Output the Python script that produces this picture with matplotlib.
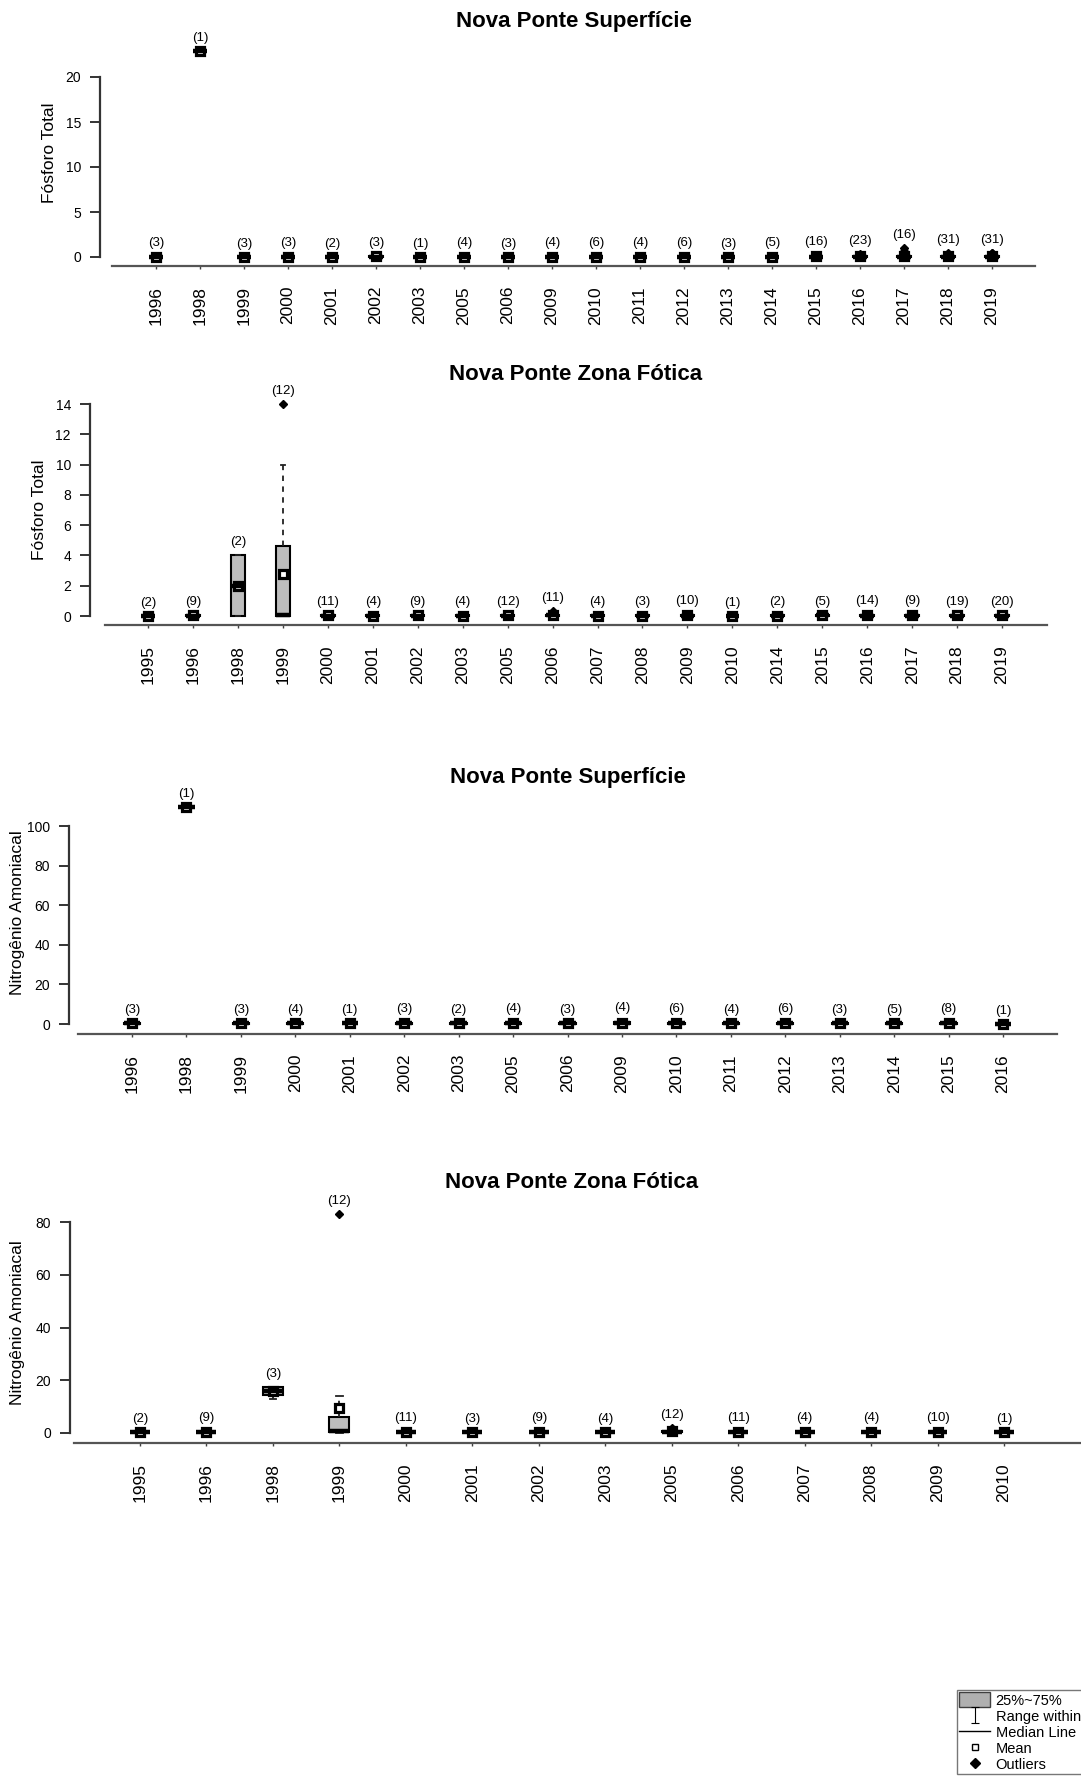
import numpy as np
import matplotlib
matplotlib.use('Agg')
import matplotlib.pyplot as plt
from matplotlib.patches import Patch
from matplotlib.lines import Line2D
from matplotlib.path import Path

plt.rcParams['font.family'] = ['Liberation Sans', 'DejaVu Sans']

W, H, DPI = 1081, 1786, 100

# --- Fosforo Total, Nova Ponte Superficie
ft_sup_years = ['1996', '1998', '1999', '2000', '2001', '2002', '2003', '2005', '2006', '2009',
                '2010', '2011', '2012', '2013', '2014', '2015', '2016', '2017', '2018', '2019']
ft_sup_n = [3, 1, 3, 3, 2, 3, 1, 4, 3, 4, 6, 4, 6, 3, 5, 16, 23, 16, 31, 31]
ft_sup_lo = [0.01, 22.9, 0.01, 0.01, 0.02, 0.01, 0.03, 0.01, 0.01, 0.01, 0.01, 0.01, 0.01, 0.01, 0.01, 0.01, 0.01, 0.01, 0.01, 0.01]
ft_sup_q1 = [0.02, 22.9, 0.02, 0.02, 0.02, 0.02, 0.03, 0.02, 0.02, 0.02, 0.02, 0.02, 0.02, 0.02, 0.02, 0.02, 0.02, 0.02, 0.02, 0.02]
ft_sup_med = [0.03, 22.9, 0.03, 0.03, 0.03, 0.04, 0.03, 0.03, 0.03, 0.03, 0.03, 0.03, 0.03, 0.03, 0.03, 0.03, 0.04, 0.04, 0.03, 0.04]
ft_sup_q3 = [0.05, 22.9, 0.04, 0.05, 0.04, 0.08, 0.03, 0.05, 0.04, 0.05, 0.05, 0.04, 0.05, 0.04, 0.05, 0.05, 0.07, 0.08, 0.06, 0.07]
ft_sup_hi = [0.06, 22.9, 0.05, 0.06, 0.04, 0.12, 0.03, 0.08, 0.05, 0.07, 0.08, 0.07, 0.08, 0.05, 0.07, 0.08, 0.12, 0.14, 0.12, 0.13]
ft_sup_mean = [0.04, 22.9, 0.03, 0.04, 0.03, 0.06, 0.03, 0.04, 0.04, 0.04, 0.05, 0.04, 0.05, 0.04, 0.04, 0.06, 0.09, 0.16, 0.08, 0.09]
ft_sup_out = {'2015': [0.18], '2016': [0.25, 0.3], '2017': [0.45, 0.7, 1.0],
              '2018': [0.35, 0.5], '2019': [0.4, 0.5]}

# --- Fosforo Total, Nova Ponte Zona Fotica
ft_fot_years = ['1995', '1996', '1998', '1999', '2000', '2001', '2002', '2003', '2005', '2006',
                '2007', '2008', '2009', '2010', '2014', '2015', '2016', '2017', '2018', '2019']
ft_fot_n = [2, 9, 2, 12, 11, 4, 9, 4, 12, 11, 4, 3, 10, 1, 2, 5, 14, 9, 19, 20]
ft_fot_lo = [0.01, 0.01, 0.0, 0.0, 0.01, 0.01, 0.01, 0.01, 0.01, 0.01, 0.01, 0.01, 0.01, 0.02, 0.01, 0.01, 0.01, 0.01, 0.01, 0.01]
ft_fot_q1 = [0.01, 0.02, 0.0, 0.0, 0.02, 0.02, 0.02, 0.02, 0.02, 0.02, 0.02, 0.02, 0.02, 0.02, 0.02, 0.02, 0.02, 0.02, 0.02, 0.02]
ft_fot_med = [0.02, 0.03, 2.0, 0.05, 0.03, 0.03, 0.03, 0.03, 0.03, 0.04, 0.03, 0.03, 0.03, 0.02, 0.03, 0.04, 0.03, 0.03, 0.03, 0.03]
ft_fot_q3 = [0.03, 0.05, 4.0, 4.6, 0.05, 0.04, 0.05, 0.04, 0.05, 0.08, 0.04, 0.04, 0.05, 0.02, 0.04, 0.06, 0.05, 0.05, 0.04, 0.05]
ft_fot_hi = [0.03, 0.08, 4.0, 10.0, 0.08, 0.05, 0.08, 0.05, 0.09, 0.15, 0.05, 0.05, 0.08, 0.02, 0.05, 0.08, 0.09, 0.08, 0.07, 0.08]
ft_fot_mean = [0.02, 0.04, 2.0, 2.8, 0.04, 0.03, 0.04, 0.03, 0.05, 0.07, 0.03, 0.03, 0.04, 0.02, 0.03, 0.05, 0.05, 0.04, 0.04, 0.04]
ft_fot_out = {'1999': [14.0], '2006': [0.3], '2009': [0.15], '2016': [0.14], '2017': [0.13]}

# --- Nitrogenio Amoniacal, Nova Ponte Superficie
na_sup_years = ['1996', '1998', '1999', '2000', '2001', '2002', '2003', '2005', '2006', '2009',
                '2010', '2011', '2012', '2013', '2014', '2015', '2016']
na_sup_n = [3, 1, 3, 4, 1, 3, 2, 4, 3, 4, 6, 4, 6, 3, 5, 8, 1]
na_sup_lo = [0.1, 109.5, 0.1, 0.1, 0.3, 0.1, 0.1, 0.1, 0.1, 0.1, 0.1, 0.1, 0.1, 0.1, 0.1, 0.1, 0.2]
na_sup_q1 = [0.2, 109.5, 0.2, 0.2, 0.3, 0.2, 0.2, 0.2, 0.2, 0.2, 0.2, 0.2, 0.2, 0.2, 0.2, 0.2, 0.2]
na_sup_med = [0.3, 109.5, 0.3, 0.3, 0.3, 0.4, 0.3, 0.3, 0.3, 0.4, 0.3, 0.3, 0.3, 0.3, 0.3, 0.3, 0.2]
na_sup_q3 = [0.5, 109.5, 0.4, 0.5, 0.3, 0.7, 0.4, 0.5, 0.4, 0.8, 0.5, 0.5, 0.5, 0.4, 0.5, 0.5, 0.2]
na_sup_hi = [0.6, 109.5, 0.5, 0.7, 0.3, 1.2, 0.5, 0.8, 0.5, 1.5, 0.8, 0.7, 0.8, 0.5, 0.7, 0.8, 0.2]
na_sup_mean = [0.4, 109.5, 0.3, 0.4, 0.3, 0.6, 0.3, 0.4, 0.3, 0.7, 0.4, 0.4, 0.4, 0.3, 0.4, 0.4, 0.2]
na_sup_out = {}

# --- Nitrogenio Amoniacal, Nova Ponte Zona Fotica
na_fot_years = ['1995', '1996', '1998', '1999', '2000', '2001', '2002', '2003', '2005', '2006',
                '2007', '2008', '2009', '2010']
na_fot_n = [2, 9, 3, 12, 11, 3, 9, 4, 12, 11, 4, 4, 10, 1]
na_fot_lo = [0.1, 0.1, 13.0, 0.0, 0.1, 0.1, 0.1, 0.1, 0.1, 0.1, 0.1, 0.1, 0.1, 0.2]
na_fot_q1 = [0.2, 0.2, 14.5, 0.3, 0.2, 0.2, 0.2, 0.2, 0.2, 0.2, 0.2, 0.2, 0.2, 0.2]
na_fot_med = [0.2, 0.3, 16.0, 0.6, 0.3, 0.3, 0.3, 0.3, 0.4, 0.3, 0.3, 0.3, 0.3, 0.2]
na_fot_q3 = [0.3, 0.5, 17.5, 6.0, 0.5, 0.4, 0.5, 0.4, 0.8, 0.5, 0.5, 0.5, 0.5, 0.2]
na_fot_hi = [0.4, 0.8, 17.5, 14.0, 0.8, 0.5, 0.8, 0.5, 1.2, 0.8, 0.6, 0.7, 0.8, 0.2]
na_fot_mean = [0.2, 0.4, 16.0, 9.5, 0.4, 0.3, 0.4, 0.3, 0.6, 0.4, 0.4, 0.4, 0.4, 0.2]
na_fot_out = {'1999': [83.0], '2005': [1.8]}


def pt(p):
    # pixels -> points
    return p * 72.0 / DPI


def draw_panel(fig, years, n, lo, q1, med, q3, hi, mean, outliers, yticks, title, ylabel, g):
    ax = fig.add_axes([g['left'] / W, 1 - g['axis'] / H,
                       (g['right'] - g['left']) / W, (g['axis'] - g['top']) / H])
    stats = []
    for i, yr in enumerate(years):
        stats.append(dict(whislo=lo[i], q1=q1[i], med=med[i], q3=q3[i], whishi=hi[i],
                          mean=mean[i], fliers=outliers.get(yr, []), label=yr))
    pos = np.arange(1, len(years) + 1)
    # R draws the median over the mean marker, so the median sits on top here too
    ax.bxp(stats, positions=pos, widths=0.3, capwidths=0.1, showmeans=True, patch_artist=True,
           boxprops=dict(facecolor='#bdbdbd', edgecolor='black', linewidth=1.5, zorder=2),
           medianprops=dict(color='black', linewidth=3.2, zorder=2.6),
           meanprops=dict(marker='s', markersize=5.2, markerfacecolor='white',
                          markeredgecolor='black', markeredgewidth=2.3, zorder=2.3),
           flierprops=dict(marker='D', markersize=4.5, markerfacecolor='black',
                           markeredgecolor='black', zorder=2.4),
           whiskerprops=dict(color='#222222', linewidth=1.3, linestyle=(0, (3, 3))),
           capprops=dict(color='#222222', linewidth=1.3))

    ax.set_xlim(1 + (g['left'] - g['x0']) / g['dx'], 1 + (g['right'] - g['x0']) / g['dx'])
    ax.set_ylim(-(g['axis'] - g['zero']) / g['ppu'], (g['zero'] - g['top']) / g['ppu'])

    ax.set_xticks(pos)
    ax.set_xticklabels(years, rotation=90, fontsize=12.5)
    ax.set_yticks(yticks)
    ax.set_yticklabels([str(v) for v in yticks], fontsize=12.5)
    ax.tick_params(axis='x', length=pt(3), pad=pt(17), width=1, color='#404040')
    ax.tick_params(axis='y', length=pt(10), pad=pt(9), width=1.4, color='#333333')

    for side in ['top', 'right']:
        ax.spines[side].set_visible(False)
    ax.spines['left'].set_bounds(yticks[0], yticks[-1])
    ax.spines['left'].set_position(('outward', pt(g['yspine'])))
    ax.spines['left'].set_linewidth(1.6)
    ax.spines['left'].set_color('#333333')
    ax.spines['bottom'].set_linewidth(1.6)
    ax.spines['bottom'].set_color('#555555')

    # sample counts above each box
    for i, yr in enumerate(years):
        top = max([hi[i]] + list(outliers.get(yr, [])))
        ax.annotate(f'({n[i]})', (pos[i], top), xytext=(0, pt(13)), textcoords='offset points',
                    ha='center', va='center', fontsize=9.5)

    fig.text(g['title'][0] / W, 1 - g['title'][1] / H, title, ha='center', va='center',
             fontsize=16, fontweight='bold')
    fig.text(g['ylab'][0] / W, 1 - g['ylab'][1] / H, ylabel, rotation=90, ha='center',
             va='center', fontsize=12.5)
    return ax


fig = plt.figure(figsize=(W / DPI, H / DPI), dpi=DPI)

draw_panel(fig, ft_sup_years, ft_sup_n, ft_sup_lo, ft_sup_q1, ft_sup_med, ft_sup_q3, ft_sup_hi,
           ft_sup_mean, ft_sup_out, [0, 5, 10, 15, 20], 'Nova Ponte Superfície', 'Fósforo Total',
           dict(left=112, right=1035, top=30, axis=266, zero=257, ppu=9.0, x0=156, dx=44.0,
                yspine=12, title=(574, 22), ylab=(50, 153)))

draw_panel(fig, ft_fot_years, ft_fot_n, ft_fot_lo, ft_fot_q1, ft_fot_med, ft_fot_q3, ft_fot_hi,
           ft_fot_mean, ft_fot_out, [0, 2, 4, 6, 8, 10, 12, 14], 'Nova Ponte Zona Fótica', 'Fósforo Total',
           dict(left=105, right=1047, top=395, axis=625, zero=616, ppu=15.14, x0=148, dx=44.95,
                yspine=15, title=(576, 375), ylab=(40, 510)))

draw_panel(fig, na_sup_years, na_sup_n, na_sup_lo, na_sup_q1, na_sup_med, na_sup_q3, na_sup_hi,
           na_sup_mean, na_sup_out, [0, 20, 40, 60, 80, 100], 'Nova Ponte Superfície', 'Nitrogênio Amoniacal',
           dict(left=78, right=1057, top=790, axis=1034, zero=1024, ppu=1.98, x0=132, dx=54.44,
                yspine=9, title=(568, 777), ylab=(18, 913)))

draw_panel(fig, na_fot_years, na_fot_n, na_fot_lo, na_fot_q1, na_fot_med, na_fot_q3, na_fot_hi,
           na_fot_mean, na_fot_out, [0, 20, 40, 60, 80], 'Nova Ponte Zona Fótica', 'Nitrogênio Amoniacal',
           dict(left=74, right=1081, top=1200, axis=1443, zero=1433, ppu=2.6375, x0=140, dx=66.46,
                yspine=4, title=(572, 1183), ylab=(18, 1323)))

# legend (cut by the right edge, as in the source figure)
ibeam = Path([(-0.5, 1), (0.5, 1), (0, 1), (0, -1), (-0.5, -1), (0.5, -1)],
             [Path.MOVETO, Path.LINETO, Path.MOVETO, Path.LINETO, Path.MOVETO, Path.LINETO])
handles = [
    Patch(facecolor='#b0b0b0', edgecolor='#404040', label='25%~75%'),
    Line2D([], [], ls='none', marker=ibeam, markersize=11, markeredgecolor='black',
           markerfacecolor='none', markeredgewidth=0.8, label='Range within 1.5IQR'),
    Line2D([], [], color='black', lw=1, label='Median Line'),
    Line2D([], [], ls='none', marker='s', markersize=4.5, markerfacecolor='white',
           markeredgecolor='black', markeredgewidth=1, label='Mean'),
    Line2D([], [], ls='none', marker='D', markersize=5, color='black', label='Outliers'),
]
leg = fig.legend(handles=handles, loc='upper left', bbox_to_anchor=(957 / W, 1 - 1690 / H),
                 bbox_transform=fig.transFigure, frameon=True, fancybox=False, edgecolor='#555555',
                 fontsize=10.5, handlelength=2.1, handleheight=1.2, handletextpad=0.4,
                 borderpad=0.15, labelspacing=0.05, borderaxespad=0)
leg.get_frame().set_linewidth(1)

fig.savefig('out.png', dpi=DPI)
